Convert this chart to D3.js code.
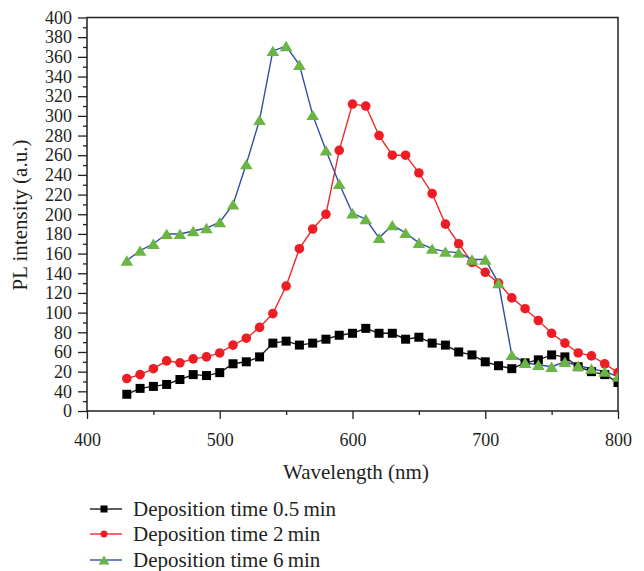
<!DOCTYPE html>
<html><head><meta charset="utf-8">
<script src="https://cdn.jsdelivr.net/npm/d3@7"></script>
<style>
body{margin:0;background:#fff;}
svg{display:block;}
</style></head>
<body>
<script>
const wavelengths = d3.range(430, 801, 10);
const series05 = [17,23,25,27,32,37,36,39,48,50,55,69,71,67,69,73,77,79,84,79,79,73,75,69,67,60,57,50,46,43,49,52,57,55,45,40,37,29];
const series2 = [33,37,43,51,49,53,55,59,67,74,85,99,127,165,185,200,265,312,310,280,260,260,242,221,190,170,151,141,130,115,104,92,79,69,59,56,48,39];
const series6 = [153,163,170,180,180,183,186,192,210,251,296,366,371,352,301,265,231,201,195,176,189,181,171,165,162,161,154,154,130,57,49,47,45,50,46,43,40,35];
const seriesNames = ["Deposition time 0.5\u2009min","Deposition time 2\u2009min","Deposition time 6\u2009min"];
const yTickValues = d3.range(0, 401, 20);
const yTickLabels = ["0","40","20","60","80","100","120","140","160","180","200","220","240","260","280","300","320","340","360","380","400"];
const xTickValues = [400,500,600,700,800];
const xLabel = "Wavelength (nm)";
const yLabel = "PL intensity (a.u.)";

const FONT = "'Liberation Serif', 'Times New Roman', Times, serif";
const W = 644, H = 571;
const m = {l:87, r:26, t:17.5, b:160};
const svg = d3.select("body").append("svg").attr("width", W).attr("height", H)
  .style("font-family", FONT);
const x = d3.scaleLinear().domain([400,800]).range([m.l, W-m.r]);
const y = d3.scaleLinear().domain([0,400]).range([H-m.b, m.t]);

svg.append("defs").append("clipPath").attr("id","clip")
  .append("rect").attr("x", m.l).attr("y", m.t).attr("width", W-m.r-m.l).attr("height", H-m.b-m.t);

const yMinor = d3.axisLeft(y).tickValues(d3.range(10, 400, 20)).tickSize(4).tickFormat("").tickSizeOuter(0);
const xMinor = d3.axisBottom(x).tickValues(d3.range(450, 800, 100)).tickSize(4).tickFormat("").tickSizeOuter(0);
svg.append("g").attr("transform",`translate(${m.l},0)`).call(yMinor).call(g=>g.select(".domain").remove());
svg.append("g").attr("transform",`translate(0,${H-m.b})`).call(xMinor).call(g=>g.select(".domain").remove());

const yAxis = d3.axisLeft(y).tickValues(yTickValues).tickFormat((d,i)=>yTickLabels[i]).tickSize(9).tickPadding(6).tickSizeOuter(0);
const xAxis = d3.axisBottom(x).tickValues(xTickValues).tickFormat(d3.format("d")).tickSize(8).tickPadding(14).tickSizeOuter(0);
const gy = svg.append("g").attr("transform",`translate(${m.l},0)`).call(yAxis);
const gx = svg.append("g").attr("transform",`translate(0,${H-m.b})`).call(xAxis);
[gy,gx].forEach(g=>{
  g.attr("font-family", null).attr("font-size", null);
  g.selectAll("text").style("font-family", FONT).attr("font-size",18).attr("fill","#231f20");
  g.select(".domain").remove();
});
svg.selectAll("g.tick line").attr("stroke","#231f20").attr("stroke-width",1.3);

svg.append("rect").attr("x", m.l).attr("y", m.t).attr("width", W-m.r-m.l).attr("height", H-m.b-m.t)
  .attr("fill","none").attr("stroke","#231f20").attr("stroke-width",1.5);

const defs = [
  {vals: series05, line:"#1a1a1a", fill:"#000000", shape:"square"},
  {vals: series2, line:"#ee2a2a", fill:"#ee1c24", shape:"circle"},
  {vals: series6, line:"#2f4fa6", fill:"#6ab545", shape:"triangle"}
];
function marker(sel, shape, s){
  if(shape==="square") sel.append("rect").attr("x",-s/2).attr("y",-s/2).attr("width",s).attr("height",s);
  else if(shape==="circle") sel.append("circle").attr("r",s/2);
  else sel.append("path").attr("d",`M0,${-s*0.45}L${s*0.55},${s*0.45}L${-s*0.55},${s*0.45}Z`);
}
const plot = svg.append("g").attr("clip-path","url(#clip)");
const line = d3.line().x((d,i)=>x(wavelengths[i])).y(d=>y(d));
defs.forEach(s=>{
  plot.append("path").datum(s.vals).attr("d", line).attr("fill","none").attr("stroke", s.line).attr("stroke-width",1.4);
});
defs.forEach(s=>{
  plot.append("g").selectAll("g").data(s.vals).join("g")
    .attr("transform",(d,i)=>`translate(${x(wavelengths[i])},${y(d)})`)
    .attr("fill", s.fill)
    .each(function(){ marker(d3.select(this), s.shape, s.shape==="triangle"?11.5:(s.shape==="circle"?9.6:9)); });
});

svg.append("text").attr("x", 356).attr("y", 479).attr("text-anchor","middle").attr("font-size",21)
  .style("font-family", FONT).attr("fill","#231f20").text(xLabel);
svg.append("text").attr("transform","translate(27,215) rotate(-90)").attr("text-anchor","middle").attr("font-size",21)
  .style("font-family", FONT).attr("fill","#231f20").text(yLabel);

const legendY = [509, 534, 560];
defs.forEach((s,i)=>{
  const g = svg.append("g").attr("transform",`translate(0,${legendY[i]})`);
  g.append("line").attr("x1",90).attr("x2",122).attr("y1",0).attr("y2",0).attr("stroke",s.line).attr("stroke-width",1.4);
  const mg = g.append("g").attr("transform","translate(104,0)").attr("fill",s.fill);
  marker(mg, s.shape, s.shape==="triangle"?10:7);
  g.append("text").attr("x",133).attr("y",6.5).attr("font-size",21).style("font-family", FONT)
    .attr("fill","#231f20").text(seriesNames[i]);
});
</script>
</body></html>
